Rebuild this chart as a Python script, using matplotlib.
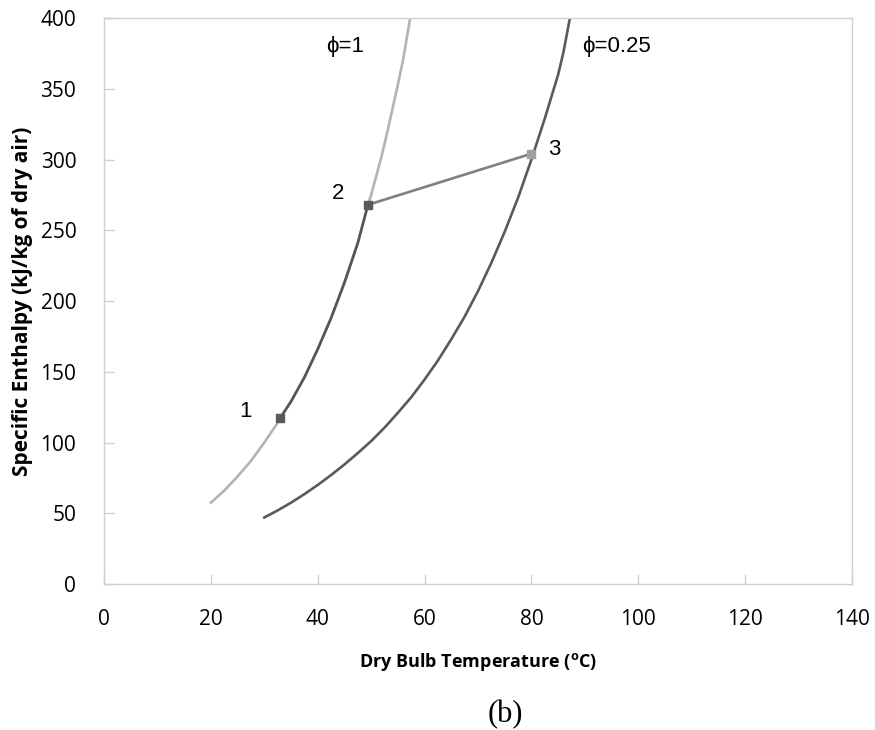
import matplotlib
matplotlib.use("Agg")
import matplotlib.pyplot as plt

# phi = 1 (saturation) curve
sat_T = [20, 22.5, 25, 27.5, 30, 32.5, 33, 35, 37.5, 40, 42.5, 45, 47.5, 49.4,
         50, 51, 52, 53, 54, 55, 56, 57.3]
sat_h = [57.5, 66, 76, 87, 100, 114, 117.5, 129, 146, 166, 188, 213, 241, 268,
         275, 289, 303, 319, 336, 353, 371, 400]

# Process 1 -> 2 along saturation
p12_T = [33, 35, 37.5, 40, 42.5, 45, 47.5, 49.4]
p12_h = [117.5, 129, 146, 166, 188, 213, 241, 268]

# Process 2 -> 3
p23_T = [49.4, 79.9]
p23_h = [268, 304]

# phi = 0.25 curve
rh25_T = [30, 32.5, 35, 37.5, 40, 42.5, 45, 47.5, 50, 52.5, 55, 57.5, 60, 62.5,
          65, 67.5, 70, 72.5, 75, 77.5, 80, 82.5, 85, 86, 87.2]
rh25_h = [47, 52, 57.5, 63.5, 70, 77, 84.5, 92.5, 101, 110.5, 121, 132, 144.5, 158,
          173, 189, 207, 227, 249, 273, 300, 329, 360, 376, 400]

# State points
pt_T = [33, 49.4, 79.9]
pt_h = [117.5, 268, 304]
pt_labels = ["1", "2", "3"]

fig = plt.figure(figsize=(8.75, 7.3), dpi=100)
ax = fig.add_axes([0.1189, 0.2, 0.9737 - 0.1189, 0.9753 - 0.2])

lw = 1.9
ax.plot(sat_T, sat_h, color="#b3b3b3", lw=lw)
ax.plot(p12_T, p12_h, color="#555555", lw=lw)
ax.plot(rh25_T, rh25_h, color="#5a5a5a", lw=lw)
ax.plot(p23_T, p23_h, color="#808080", lw=lw)
ax.plot(pt_T[:2], pt_h[:2], ls="none", marker="s", ms=5.5, color="#5a5a5a")
ax.plot(pt_T[2:], pt_h[2:], ls="none", marker="s", ms=5.5, color="#a0a0a0")

txt_font = ["Liberation Sans", "DejaVu Sans"]
fs = 16
ax.text(26.4, 122, pt_labels[0], fontsize=fs, family=txt_font, ha="center", va="center")
ax.text(43.8, 276, pt_labels[1], fontsize=fs, family=txt_font, ha="center", va="center")
ax.text(84.3, 307, pt_labels[2], fontsize=fs, family=txt_font, ha="center", va="center")
ax.text(41.6, 380, "\u03d5=1", fontsize=fs, family=txt_font, ha="left", va="center")
ax.text(89.4, 380, "\u03d5=0.25", fontsize=fs, family=txt_font, ha="left", va="center")

ax.set_xlim(0, 140)
ax.set_ylim(0, 400)
ax.set_xticks(range(0, 141, 20))
ax.set_yticks(range(0, 401, 50))

tick_font = "Open Sans"
for lab in ax.get_xticklabels() + ax.get_yticklabels():
    lab.set_family(tick_font)
    lab.set_fontsize(15)
ax.tick_params(axis="both", direction="in", length=7, color="#d0d0d0", width=1)
ax.tick_params(axis="y", pad=20)
ax.tick_params(axis="x", pad=18)

for s in ax.spines.values():
    s.set_color("#d0d0d0")
    s.set_linewidth(1)

ax.set_xlabel("Dry Bulb Temperature ($^{\\mathregular{o}}$C)", fontsize=13,
              fontweight="bold", family=tick_font, labelpad=15)
ax.set_ylabel("Specific Enthalpy (kJ/kg of dry air)", fontsize=15,
              fontweight="bold", family=tick_font, labelpad=5)

fig.text(505 / 875, 1 - 715 / 730, "(b)", fontsize=22, family="Liberation Serif",
         ha="center", va="center")

fig.savefig("out.png", dpi=100)
